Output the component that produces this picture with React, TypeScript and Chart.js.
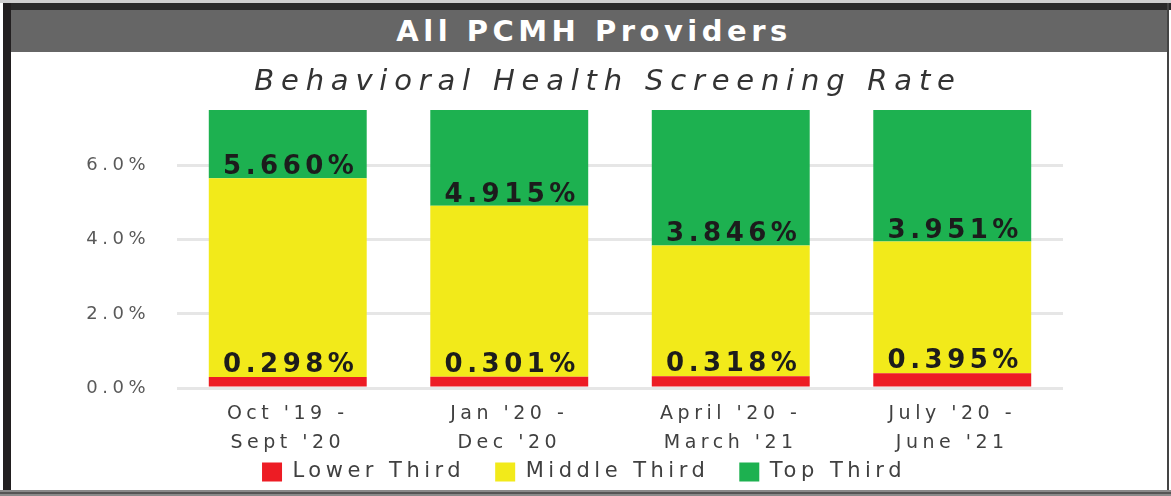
import React, { useEffect, useRef } from 'react';
import { Chart, registerables } from 'chart.js';

Chart.register(...registerables);

// ---- data ----
const categories: string[][] = [
  ["Oct '19 -", "Sept '20"],
  ["Jan '20 -", "Dec '20"],
  ["April '20 -", "March '21"],
  ["July '20 -", "June '21"],
];
const lowerThirdCut = [0.298, 0.301, 0.318, 0.395];
const topThirdCut = [5.66, 4.915, 3.846, 3.951];
const axisMax = 7.5;
const yTickValues = [0, 2, 4, 6];
const seriesNames = ['Lower Third', 'Middle Third', 'Top Third'];
const seriesColors = ['#ED1C24', '#F2EA1A', '#1DB150'];
const chartTitle = 'All PCMH Providers';
const chartSubtitle = 'Behavioral Health Screening Rate';

const FONT = '"DejaVu Sans"';
const SPACING = '4.5px';
const CANVAS_TOP = 52;
const LEGEND_ROW_Y = 472 - CANVAS_TOP; // centre of legend row, canvas px

const spacingPlugin = {
  id: 'letterSpacingAll',
  beforeInit(c: any) { c.ctx.letterSpacing = SPACING; },
  beforeUpdate(c: any) { c.ctx.letterSpacing = SPACING; },
  beforeLayout(c: any) { c.ctx.letterSpacing = SPACING; },
  beforeDraw(c: any) { c.ctx.letterSpacing = SPACING; },
};

const legendShiftPlugin = {
  id: 'legendShift',
  afterLayout(c: any) {
    const lg = c.legend;
    if (!lg) return;
    const pad = lg.options.labels.padding;
    const itemH = 21;
    const h = lg.bottom - lg.top;
    lg.top = LEGEND_ROW_Y - pad - itemH / 2;
    lg.bottom = lg.top + h;
  },
};

const valueLabelPlugin = {
  id: 'valueLabels',
  afterDatasetsDraw(c: any) {
    const ctx = c.ctx;
    const y = c.scales.y;
    const meta = c.getDatasetMeta(1);
    ctx.save();
    ctx.font = `bold 26px ${FONT}`;
    ctx.fillStyle = '#1c1c1c';
    ctx.textAlign = 'center';
    ctx.textBaseline = 'alphabetic';
    ctx.letterSpacing = '4.5px';
    meta.data.forEach((bar: any, i: number) => {
      const x = bar.x + 3;
      ctx.fillText(lowerThirdCut[i].toFixed(3) + '%', x, y.getPixelForValue(lowerThirdCut[i]) - 5);
      ctx.fillText(topThirdCut[i].toFixed(3) + '%', x, y.getPixelForValue(topThirdCut[i]) - 4);
    });
    ctx.restore();
  },
};

export default function App() {
  const canvasRef = useRef<HTMLCanvasElement | null>(null);

  useEffect(() => {
    if (!canvasRef.current) return;
    Chart.defaults.font.family = FONT;
    const lowerData = lowerThirdCut.map((v) => [0, v]);
    const middleData = lowerThirdCut.map((v, i) => [v, topThirdCut[i]]);
    const topData = topThirdCut.map((v) => [v, axisMax]);
    const datasets = [lowerData, middleData, topData].map((d, k) => ({
      label: seriesNames[k],
      data: d as any,
      backgroundColor: seriesColors[k],
      borderWidth: 0,
      grouped: false,
      barPercentage: 0.713,
      categoryPercentage: 1,
    }));

    const chart = new Chart(canvasRef.current, {
      type: 'bar',
      data: { labels: categories as any, datasets },
      options: {
        responsive: false,
        animation: false,
        layout: { padding: { top: 58, left: 60, right: 70, bottom: 0 } },
        plugins: {
          legend: {
            position: 'bottom',
            labels: {
              boxWidth: 20,
              boxHeight: 19,
              padding: 30,
              color: '#404040',
              font: { family: FONT, size: 21 },
            },
          },
          tooltip: { enabled: false },
          title: { display: false },
        },
        scales: {
          x: {
            grid: { display: false },
            border: { display: false },
            ticks: {
              color: '#404040',
              font: { family: FONT, size: 19, lineHeight: 1.5 },
              padding: 4,
              maxRotation: 0,
              autoSkip: false,
            },
            afterFit: (s: any) => { s.height = 70; },
          },
          y: {
            min: 0,
            max: axisMax,
            afterBuildTicks: (s: any) => { s.ticks = yTickValues.map((v) => ({ value: v })); },
            ticks: {
              color: '#595959',
              padding: 27,
              font: { family: FONT, size: 18 },
              callback: (v: any) => Number(v).toFixed(1) + '%',
            },
            grid: { color: '#e6e6e6', lineWidth: 3, drawTicks: false },
            border: { display: false },
            afterFit: (s: any) => { s.width = 106; },
          },
          yRight: {
            position: 'right',
            display: true,
            grid: { display: false },
            border: { display: false },
            ticks: { display: false },
            afterFit: (s: any) => { s.width = 34; },
          },
        },
      } as any,
      plugins: [spacingPlugin, legendShiftPlugin, valueLabelPlugin],
    });
    return () => chart.destroy();
  }, []);

  return (
    <div style={{ position: 'fixed', left: 0, top: 0, width: 1171, height: 496, overflow: 'hidden', background: '#fff' }}>
      <canvas ref={canvasRef} width={1156} height={467} style={{ position: 'absolute', left: 11, top: CANVAS_TOP }} />
      <div style={{ position: 'absolute', left: 0, top: 0, width: 1171, height: 3, background: '#cfcfcf' }} />
      <div style={{ position: 'absolute', left: 3, top: 3, width: 1168, height: 7, background: '#2a2a2a' }} />
      <div style={{ position: 'absolute', left: 11, top: 10, width: 1156, height: 42, background: '#666666' }} />
      <div style={{ position: 'absolute', left: 3, top: 3, width: 8, height: 493, background: '#221f20' }} />
      <div style={{ position: 'absolute', left: 1167, top: 3, width: 2, height: 493, background: '#444' }} />
      <div style={{ position: 'absolute', left: 0, top: 490, width: 1171, height: 6, background: '#8a8a8a' }} />
      <div style={{ position: 'absolute', left: 0, top: 492, width: 1171, height: 2, background: '#555' }} />
      <div
        style={{
          position: 'absolute', left: 11, top: 10, width: 1166, height: 42,
          lineHeight: '42px', textAlign: 'center', color: '#fff', fontFamily: FONT,
          fontWeight: 'bold', fontSize: 29, letterSpacing: '4.5px',
        }}
      >
        {chartTitle}
      </div>
      <div
        style={{
          position: 'absolute', left: 0, top: 61, width: 1216, height: 38,
          lineHeight: '38px', textAlign: 'center', color: '#333', fontFamily: FONT,
          fontStyle: 'italic', fontSize: 29, letterSpacing: '6.8px',
        }}
      >
        {chartSubtitle}
      </div>
    </div>
  );
}
